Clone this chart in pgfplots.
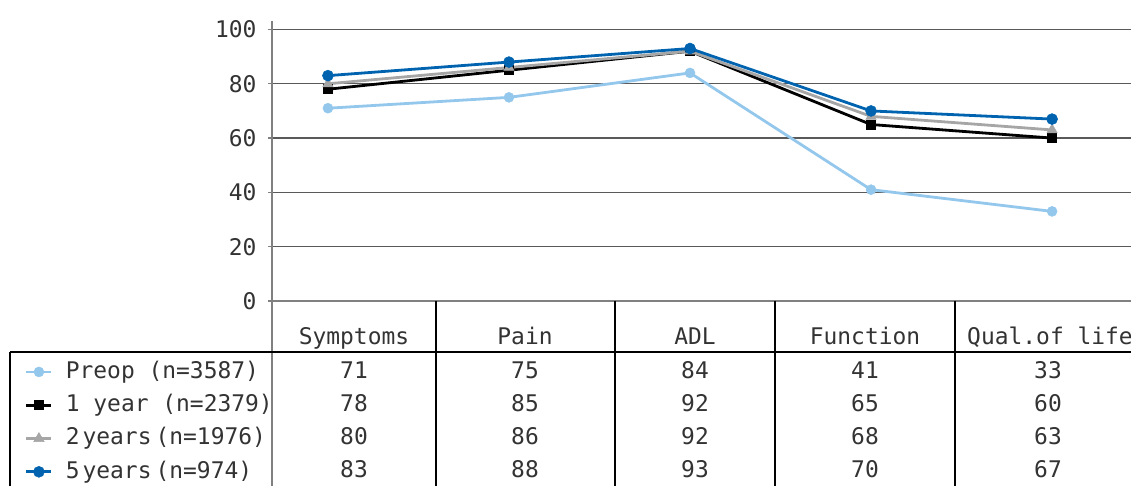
\documentclass[border=0pt]{standalone}
\usepackage{pgfplots}
\usepackage{pgfplotstable}
\pgfplotsset{compat=1.18}
\usepackage{fontspec}
\newfontfamily\monofont{DejaVu Sans Mono}

\definecolor{preop}{RGB}{148,199,236}
\definecolor{oneyr}{RGB}{0,0,0}
\definecolor{twoyr}{RGB}{166,166,166}
\definecolor{fiveyr}{RGB}{0,99,175}
\definecolor{txt}{RGB}{51,51,51}
\definecolor{gridc}{RGB}{89,89,89}
\definecolor{axisc}{RGB}{128,128,128}

% KOOS subscale means per follow-up group (rows: subscales, columns: groups)
\pgfplotstableread{
idx preop one two five
0   71    78  80  83
1   75    85  86  88
2   84    92  92  93
3   41    65  68  70
4   33    60  63  67
}\scores

\newcommand\tf{\monofont\fontsize{23}{23}\selectfont}

\begin{document}
\begin{tikzpicture}[x=1bp,y=1bp]
\path[use as bounding box] (0,0) rectangle (1131,486);
\begin{axis}[
  at={(272bp,185bp)}, anchor=south west, scale only axis,
  width=859bp, height=271.5bp,
  xmin=-0.309, xmax=4.436, ymin=0, ymax=100,
  ytick={0,20,...,100}, xtick=\empty,
  axis line style={draw=none},
  ymajorgrids, grid style={gridc, line width=1.2bp},
  major tick length=4bp, tick align=outside, ytick pos=left,
  tick style={axisc, line width=1.2bp},
  yticklabel style={font=\tf, text=txt, xshift=-8bp},
  /pgf/number format/assume math mode=true,
  clip=false,
  legend style={at={(-0.2875,-0.211)}, anchor=north west, draw=none, fill=none,
    inner sep=0pt, outer sep=0pt, font=\tf, text=txt, column sep=13bp, row sep=0pt,
    nodes={inner sep=0pt, text height=20bp, text depth=13.3bp}},
  legend cell align=left,
  legend image code/.code={\draw[mark repeat=2,mark phase=2,#1]
    plot coordinates {(0bp,3bp) (12.5bp,3bp) (25bp,3bp)};},
]
\addplot[preop, line width=2.8bp, mark=*, mark size=5bp, mark options={line width=0.5bp}]
  table[x=idx, y=preop]{\scores};
\addlegendentry{Preop (n=3587)}
\addplot[oneyr, line width=2.8bp, mark=square*, mark size=4.5bp, mark options={line width=0.5bp}]
  table[x=idx, y=one]{\scores};
\addlegendentry{1 year (n=2379)}
\addplot[twoyr, line width=2.8bp, mark=triangle*, mark size=6bp, mark options={line width=0.5bp}]
  table[x=idx, y=two]{\scores};
\addlegendentry{2\kern3bp years\kern4bp(n=1976)}
\addplot[fiveyr, line width=2.8bp, mark=*, mark size=5.5bp, mark options={line width=0.5bp}]
  table[x=idx, y=five]{\scores};
\addlegendentry{5\kern3bp years\kern4bp(n=974)}
\end{axis}

% data table grid
\draw[axisc, line width=2bp] (272,465) -- (272,0);
\draw[axisc, line width=2bp] (272,185) -- (1131,185);
\draw[black, line width=1.2bp] (10,134) -- (1131,134);
\draw[black, line width=1.2bp] (10,134) -- (10,0);
\foreach \x in {436,615,775,955} \draw[black, line width=1.2bp] (\x,185) -- (\x,0);

% column headers
\foreach \x/\t in {354/Symptoms, 525/Pain, 695/ADL, 865/Function, 1050/Qual.of life}
  \node[anchor=base, font=\tf, text=txt, inner sep=0pt] at (\x,141) {\t};

% table values
\foreach \s/\yy in {1/107.7, 2/74.3, 3/41, 4/8.3} {
  \foreach \r/\xx in {0/354, 1/525, 2/695, 3/865, 4/1048} {
    \pgfplotstablegetelem{\r}{[index]\s}\of\scores
    \node[anchor=base, font=\tf, text=txt, inner sep=0pt] at (\xx,\yy) {\pgfplotsretval};
  }
}
\end{tikzpicture}
\end{document}
